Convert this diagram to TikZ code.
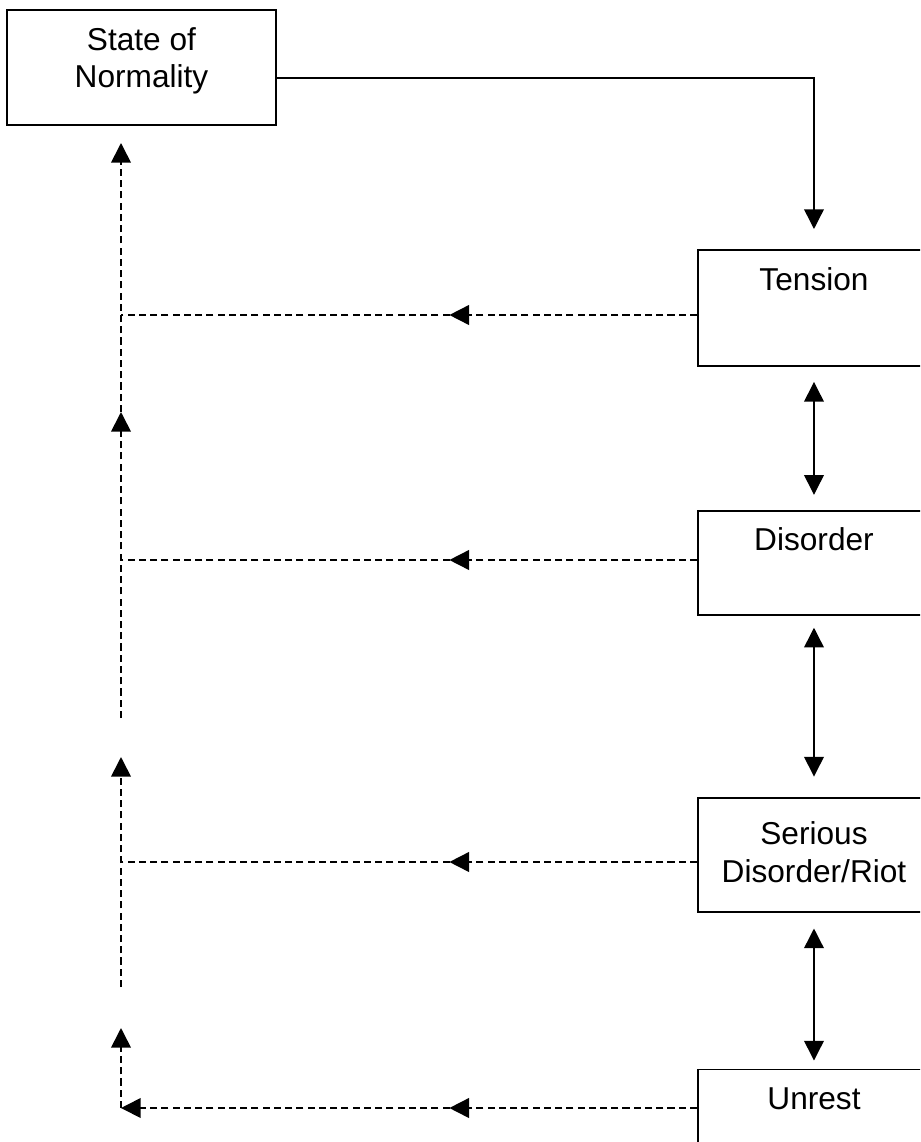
\documentclass[tikz,border=0pt]{standalone}
\usepackage{fontspec}
\setmainfont{Liberation Sans}
\usetikzlibrary{positioning, arrows.meta, decorations.markings}
\tikzset{
  stage/.style={
    draw,
    rectangle,
    line width=1.4pt,
    minimum width=5.8cm,
    inner sep=0pt,
    align=center,
    font=\fontsize{22.5}{27}\selectfont
  },
  flow/.style={
    line width=1pt,
    -{Triangle[length=14pt,width=14pt]}
  },
  twoway/.style={
    line width=1pt,
    {Triangle[length=14pt,width=14pt]}-{Triangle[length=14pt,width=14pt]},
    shorten <=0.375cm,
    shorten >=0.375cm
  },
  back/.style={
    line width=1.2pt,
    dash pattern=on 5pt off 3pt
  },
  backflow/.style={
    back,
    -{Triangle[length=14pt,width=14pt]}
  },
  midarrow/.style={
    postaction={decorate},
    decoration={markings,
      mark=at position 0.43 with {\arrow{Triangle[length=14pt,width=14pt]}}}
  }
}

\begin{document}
\begin{tikzpicture}
    \clip (0,0) rectangle (23,-28.55);
    \node[stage, minimum width=6.725cm, text height=1.95cm, text depth=0.925cm, anchor=north west] (normality) at (0.15,-0.225) {State of\\Normality};
    \node[stage, text height=1.025cm, text depth=1.875cm, anchor=north west] (tension) at (17.425,-6.225) {Tension};
    \node[stage, text height=1cm, text depth=1.6cm, below=3.57cm of tension] (disorder) {Disorder};
    \node[stage, text height=2.125cm, text depth=0.725cm, below=4.52cm of disorder] (riot) {Serious\\Disorder/Riot};
    \node[stage, text height=1cm, text depth=1.75cm, below=3.9cm of riot] (unrest) {Unrest};

    \coordinate (jt) at (3.025,-7.875);
    \coordinate (jd) at (3.025,-14);
    \coordinate (jr) at (3.025,-21.55);
    \coordinate (ju) at (3.025,-27.7);
    \coordinate (top1) at (3.025,-3.575);
    \coordinate (top2) at (3.025,-10.3);
    \coordinate (end2) at (3.025,-17.95);
    \coordinate (top3) at (3.025,-18.925);
    \coordinate (end3) at (3.025,-24.675);
    \coordinate (top4) at (3.025,-25.7);

    \draw[flow, shorten >=0.5cm] ([yshift=-0.2625cm]normality.east) -| (tension.north);
    \draw[twoway] (tension) -- (disorder);
    \draw[twoway, shorten <=0.3cm, shorten >=0.5cm] (disorder) -- (riot);
    \draw[twoway, shorten <=0.4cm, shorten >=0.2cm] (riot) -- (unrest);

    \draw[back, midarrow] (tension.west |- jt) -- (jt);
    \draw[back, midarrow] (disorder.west |- jd) -- (jd);
    \draw[back, midarrow] (riot.west |- jr) -- (jr);
    \draw[backflow, midarrow] (unrest.west |- ju) -- (ju);
    \draw[backflow] (top2) -- (top1);
    \draw[backflow] (end2) -- (top2);
    \draw[backflow] (end3) -- (top3);
    \draw[backflow] (ju) -- (top4);
\end{tikzpicture}
\end{document}
